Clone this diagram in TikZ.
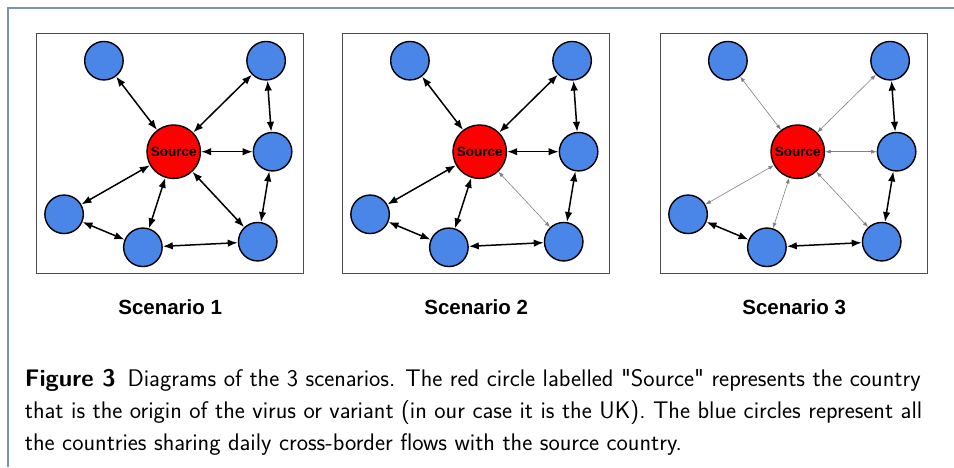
\documentclass[tikz,border=0pt]{standalone}
\usepackage{fontspec}
\newfontfamily\arialfont{Liberation Sans}
\usetikzlibrary{arrows.meta,positioning,calc}
\definecolor{nodeblue}{HTML}{4A86E8}
\definecolor{framegray}{HTML}{7A93B0}
\tikzset{>=latex}
\tikzset{
  country/.style={circle,draw=black,line width=1.4pt,fill=nodeblue,minimum size=38.5pt,inner sep=0pt},
  source/.style={circle,draw=black,line width=1.4pt,fill=red,minimum size=53.5pt,inner sep=0pt,font=\arialfont\bfseries\fontsize{13.5}{15}\selectfont},
  flowbig/.style={{Latex[length=10pt,width=7.5pt]}-{Latex[length=10pt,width=7.5pt]},line width=1.5pt,black},
  flowthin/.style={{Latex[length=5.5pt,width=4pt]}-{Latex[length=5.5pt,width=4pt]},line width=0.6pt,gray},
  panel/.style={draw=black!70,line width=0.8pt},
  scenario/.style={font=\arialfont\bfseries\fontsize{20.5}{24}\selectfont,anchor=base},
  captionline/.style={anchor=base west,inner sep=0pt,font=\sffamily\fontsize{24}{32}\selectfont}
}

\begin{document}
\begin{tikzpicture}[x=1pt,y=-1pt]
\useasboundingbox (0,0) rectangle (954,467);
% outer frame
\draw[framegray,line width=1.5pt] (8,467) -- (8,8) -- (954,8);
% the three scenarios
\foreach \i/\x/\srca/\srcb in {1/36.7/flowbig/flowbig,2/342.7/flowbig/flowthin,3/660.7/flowthin/flowthin}{
  \begin{scope}[shift={(\x,33.3)}]
    \draw[panel] (0,0) rectangle (267,240);
    \node[source] (s\i) at (137,118.4) {Source};
    \node[country] (tl\i) at (67.2,27.4) {};
    \node[country] (tr\i) at (229.4,27.4) {};
    \node[country] (r\i) at (235.9,118.4) {};
    \node[country] (lb\i) at (27.4,181) {};
    \node[country] (bm\i) at (106.2,214) {};
    \node[country] (br\i) at (221,208.4) {};
    \node[scenario] (lab\i) at (133.5,281) {Scenario \i};
  \end{scope}
  \draw[\srca] (s\i) -- (tl\i);
  \draw[\srca] (s\i) -- (tr\i);
  \draw[\srca] (s\i) -- (r\i);
  \draw[\srca] (s\i) -- (lb\i);
  \draw[\srca] (s\i) -- (bm\i);
  \draw[\srcb] (s\i) -- (br\i);
  \draw[flowbig] (tr\i) -- (r\i);
  \draw[flowbig] (r\i) -- (br\i);
  \draw[flowbig] (lb\i) -- (bm\i);
  \draw[flowbig] (bm\i) -- (br\i);
}
% caption
\node[captionline] (c1) at (24.7,386.5) {\textbf{Figure 3}\hspace{0.5em}Diagrams of the 3 scenarios. The red circle labelled \textquotedbl Source\textquotedbl{} represents the country};
\node[captionline] (c2) at (24.7,418.5) {that is the origin of the virus or variant (in our case it is the UK). The blue circles represent all};
\node[captionline] (c3) at (24.7,450.5) {the countries sharing daily cross-border flows with the source country.};
\end{tikzpicture}
\end{document}
